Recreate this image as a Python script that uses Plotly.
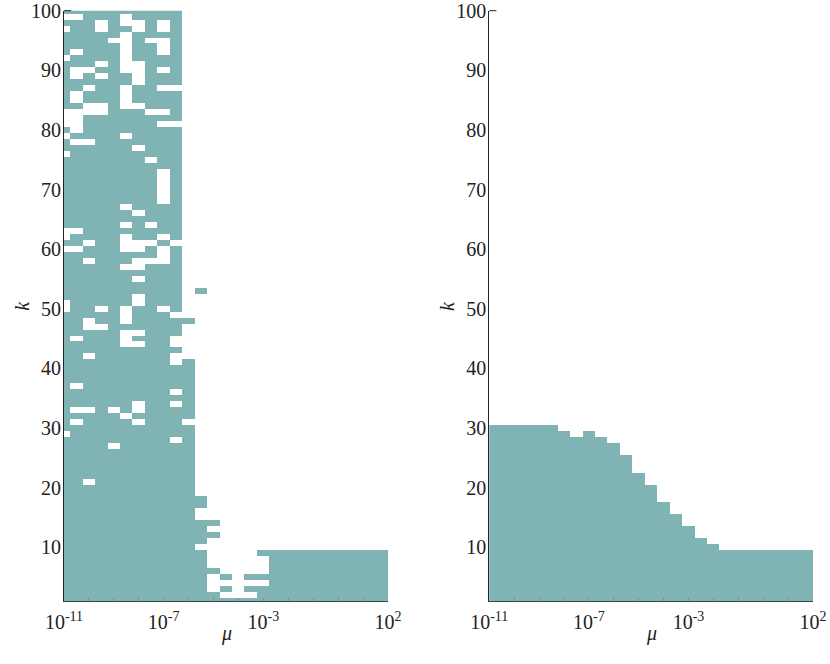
import numpy as np
import plotly.graph_objects as go

# mu grid (log10 values) and k grid
mu_exp = [-11, -10.5, -10, -9.5, -9, -8.5, -8, -7.5, -7, -6.5, -6, -5.5, -5, -4.5,
          -4, -3.5, -3, -2.5, -2, -1.5, -1, -0.5, 0, 0.5, 1, 1.5, 2]
k_vals = list(range(1, 101))

# right panel: highest filled k in each mu column
right_top = [30, 30, 30, 30, 30, 30, 29, 28, 29, 28, 27, 25, 22, 20, 17, 15, 13, 11, 10,
             9, 9, 9, 9, 9, 9, 9, 9]

# left panel: columns 0-9 are filled for every k except these (k -> empty columns)
left_gaps = {
    99: [0, 1, 5], 98: [3, 5, 6, 8], 97: [0, 3, 6, 8], 96: [5], 95: [4, 5, 7, 8],
    94: [5, 8], 93: [1, 5, 8], 92: [0, 5], 91: [3, 5, 6], 90: [1, 2, 5, 6, 8],
    89: [1, 3, 6], 88: [6], 87: [2, 5, 8, 9], 86: [1, 5], 85: [1, 5], 84: [2, 3, 5, 6],
    83: [0, 1, 2, 3, 7, 8], 82: [0, 1], 81: [0, 1, 8, 9], 80: [1], 79: [0, 5],
    78: [1, 2], 77: [6], 76: [0], 75: [7], 73: [8], 72: [8], 71: [8], 70: [8], 69: [8],
    68: [8], 67: [5], 66: [6], 64: [5, 7], 63: [0, 1], 62: [0, 5, 8], 61: [2, 5, 6, 7, 9],
    60: [0, 1, 5, 6, 8], 59: [8], 58: [2, 6, 7, 8], 57: [5, 6], 55: [6], 52: [6],
    51: [0, 6], 50: [0, 3, 5, 8], 49: [5, 9], 48: [2, 5], 47: [2, 3], 46: [5, 6],
    45: [1, 5, 9], 44: [5, 6, 9], 42: [2, 9], 41: [9], 37: [1], 36: [9], 34: [6, 9],
    33: [1, 2, 4, 6], 32: [5], 31: [1, 6], 29: [0], 28: [9], 27: [4], 21: [2],
}
# left panel: columns 10+ are empty except these filled k
left_tail = {
    10: [k for k in range(1, 42) if k != 31] + [48],
    11: [1, 2, 3, 4, 5, 6, 7, 8, 9, 11, 12, 13, 14, 17, 18, 53],
    12: [1, 2, 6, 12, 14],
    13: [1, 3, 5],
    14: [1],
    15: [1, 3, 5],
    16: [1, 2, 3, 5, 9],
}
for c in range(17, 27):
    left_tail[c] = [1, 2, 3, 4, 5, 6, 7, 8, 9]

ncol = len(mu_exp)
z_left = np.zeros((len(k_vals), ncol))
z_left[:, :10] = 1
for k, cols in left_gaps.items():
    for c in cols:
        z_left[k - 1, c] = 0
for c, ks in left_tail.items():
    for k in ks:
        z_left[k - 1, c] = 1

z_right = np.zeros((len(k_vals), ncol))
for c, top in enumerate(right_top):
    z_right[:top, c] = 1

teal = "#80B3B3"
cs = [[0, "white"], [1, teal]]

fig = go.Figure()
fig.add_trace(go.Heatmap(x=mu_exp, y=k_vals, z=z_left, colorscale=cs, zmin=0, zmax=1,
                         showscale=False, xaxis="x", yaxis="y", hoverinfo="skip"))
fig.add_trace(go.Heatmap(x=mu_exp, y=k_vals, z=z_right, colorscale=cs, zmin=0, zmax=1,
                         showscale=False, xaxis="x2", yaxis="y2", hoverinfo="skip"))

serif = "Liberation Serif, Times New Roman, Times, serif"
tfont = dict(family=serif, size=20, color="#222")
xt = list(range(-11, 3))
xtext = [f"10<sup>{e}</sup>" if e in (-11, -7, -3, 2) else "" for e in xt]

def xaxis(dom, anchor):
    return dict(domain=dom, anchor=anchor, range=[-11, 2], tickvals=xt, ticktext=xtext,
                ticks="inside", ticklen=3, tickcolor="#888", showline=True,
                linecolor="#444", linewidth=1, showgrid=False, zeroline=False,
                automargin=False, tickfont=tfont, ticklabelstandoff=3,
                ticklabeloverflow="allow")

def yaxis(anchor):
    return dict(domain=[0.0949, 0.9839], anchor=anchor, range=[1, 100],
                tickvals=list(range(10, 101, 10)), ticks="", showline=True,
                linecolor="#222", linewidth=1, showgrid=False, zeroline=False,
                automargin=False, tickfont=tfont, ticklabelstandoff=-2,
                ticklabeloverflow="allow")

annots = []
shapes = []
for xr, yr in (("x", "y"), ("x2", "y2")):
    annots.append(dict(text="<i>μ</i>", xref=xr + " domain", yref=yr + " domain",
                       x=0.5, y=0, yshift=-33, xanchor="center", yanchor="middle",
                       showarrow=False, font=tfont))
    annots.append(dict(text="<i>k</i>", xref=xr + " domain", yref=yr + " domain",
                       x=0, y=0.5, xshift=-42, xanchor="center", yanchor="middle",
                       textangle=-90, showarrow=False, font=tfont))
    shapes.append(dict(type="line", xref=xr + " domain", yref=yr + " domain",
                       x0=0, x1=0.022, y0=1, y1=1, line=dict(color="#222", width=1)))

fig.update_layout(
    width=830, height=664,
    margin=dict(l=0, r=0, t=0, b=0),
    font=dict(family=serif),
    paper_bgcolor="white", plot_bgcolor="white",
    xaxis=xaxis([0.0771, 0.4675], "y"),
    yaxis=yaxis("x"),
    xaxis2=xaxis([0.5895, 0.9795], "y2"),
    yaxis2=yaxis("x2"),
    annotations=annots,
    shapes=shapes,
)

fig.write_html("out.html", config={"displayModeBar": False},
               post_script="document.body.style.margin='0';")
